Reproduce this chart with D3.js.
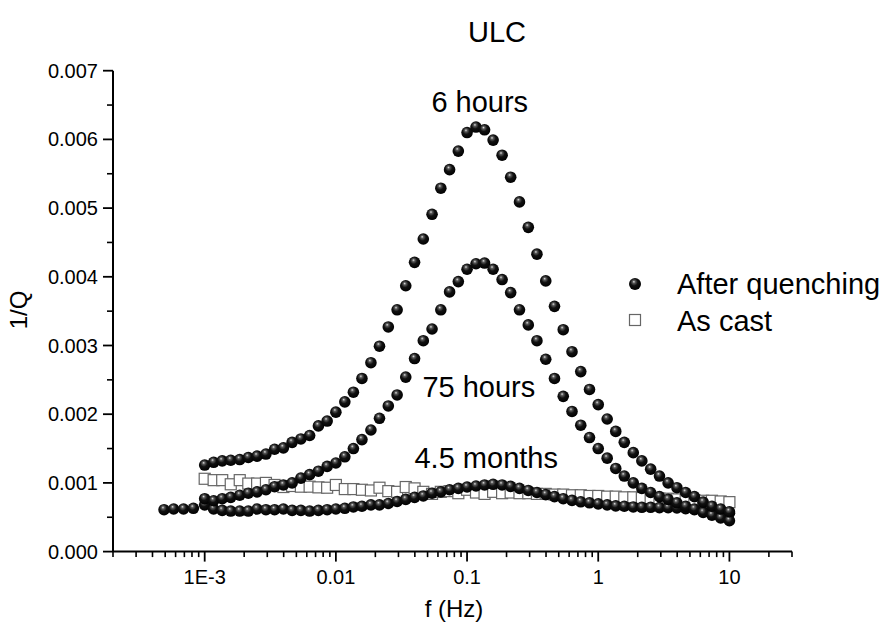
<!DOCTYPE html>
<html>
<head>
<meta charset="utf-8">
<script src="https://cdn.jsdelivr.net/npm/d3@7"></script>
<style>
  html, body { margin: 0; padding: 0; background: #fff; }
  svg { display: block; font-family: "Liberation Sans", Arial, sans-serif; }
</style>
</head>
<body>
<svg id="chart" width="887" height="625"></svg>
<script>
// ---------------- DATA ----------------
const freq = [
  0.001, 0.00117, 0.00136, 0.00158, 0.00185, 0.00215, 0.00251, 0.00293, 0.00341, 0.00398, 0.00464, 0.00541, 0.00631, 0.00736, 0.00858,
  0.01, 0.0117, 0.0136, 0.0158, 0.0185, 0.0215, 0.0251, 0.0293, 0.0341, 0.0398, 0.0464, 0.0541, 0.0631, 0.0736, 0.0858,
  0.1, 0.117, 0.136, 0.158, 0.185, 0.215, 0.251, 0.293, 0.341, 0.398, 0.464, 0.541, 0.631, 0.736, 0.858,
  1, 1.17, 1.36, 1.58, 1.85, 2.15, 2.51, 2.93, 3.41, 3.98, 4.64, 5.41, 6.31, 7.36, 8.58,
  10
];
// values in units of 1e-3
const sixHours = [
  1.26, 1.30, 1.32, 1.33, 1.34, 1.37, 1.39, 1.42, 1.49, 1.51, 1.59, 1.64, 1.69, 1.83, 1.90,
  2.03, 2.18, 2.32, 2.52, 2.75, 2.99, 3.27, 3.52, 3.87, 4.21, 4.55, 4.91, 5.29, 5.56, 5.83,
  6.10, 6.18, 6.14, 5.99, 5.77, 5.45, 5.09, 4.72, 4.33, 3.94, 3.57, 3.23, 2.91, 2.62, 2.36,
  2.14, 1.93, 1.75, 1.59, 1.44, 1.32, 1.20, 1.10, 1.00, 0.93, 0.86, 0.80, 0.72, 0.66, 0.62,
  0.58
];
const seventyFiveHours = [
  0.77, 0.74, 0.77, 0.79, 0.82, 0.85, 0.87, 0.90, 0.945, 0.97, 1.00, 1.07, 1.12, 1.17, 1.24,
  1.29, 1.38, 1.50, 1.63, 1.77, 1.94, 2.12, 2.28, 2.54, 2.81, 3.07, 3.24, 3.52, 3.78, 3.93,
  4.11, 4.19, 4.20, 4.11, 3.96, 3.77, 3.52, 3.30, 3.07, 2.80, 2.52, 2.26, 2.04, 1.84, 1.66,
  1.50, 1.36, 1.21, 1.10, 1.00, 0.92, 0.86, 0.80, 0.76, 0.71, 0.66, 0.62, 0.57, 0.53, 0.49,
  0.45
];
const monthsLowFreq = [0.00049, 0.00058, 0.00069, 0.00082];
const monthsLow = [0.61, 0.62, 0.62, 0.63];
const fourHalfMonths = [
  0.68, 0.62, 0.60, 0.59, 0.59, 0.59, 0.62, 0.61, 0.61, 0.62, 0.60, 0.60, 0.59, 0.60, 0.61,
  0.62, 0.63, 0.65, 0.66, 0.68, 0.68, 0.70, 0.73, 0.76, 0.79, 0.81, 0.85, 0.87, 0.90, 0.92,
  0.94, 0.955, 0.97, 0.98, 0.97, 0.95, 0.92, 0.89, 0.86, 0.83, 0.80, 0.77, 0.745, 0.725, 0.71,
  0.695, 0.68, 0.665, 0.66, 0.65, 0.645, 0.645, 0.64, 0.64, 0.635, 0.625, 0.61, 0.58, 0.575, 0.57,
  0.56
];
const asCast = [
  1.06, 1.04, 1.04, 0.98, 1.04, 0.99, 0.99, 1.00, 0.97, 0.94, 0.955, 0.945, 0.945, 0.935, 0.93,
  0.97, 0.91, 0.91, 0.90, 0.89, 0.93, 0.88, 0.87, 0.94, 0.92, 0.87, 0.84, 0.87, 0.88, 0.85,
  0.90, 0.86, 0.84, 0.87, 0.85, 0.86, 0.85, 0.85, 0.84, 0.84, 0.83, 0.83, 0.82, 0.82, 0.81,
  0.81, 0.80, 0.80, 0.79, 0.79, 0.78, 0.78, 0.77, 0.77, 0.76, 0.76, 0.75, 0.74, 0.74, 0.73,
  0.72
];
const xTickValues = [0.001, 0.01, 0.1, 1, 10];
const xTickLabels = ["1E-3", "0.01", "0.1", "1", "10"];
const yTickValues = [0, 0.001, 0.002, 0.003, 0.004, 0.005, 0.006, 0.007];
const yTickLabels = ["0.000", "0.001", "0.002", "0.003", "0.004", "0.005", "0.006", "0.007"];
const annotations = [
  { text: "6 hours", f: 0.125, v: 0.00640 },
  { text: "75 hours", f: 0.123, v: 0.00225 },
  { text: "4.5 months", f: 0.14, v: 0.00122 }
];
const legendItems = ["After quenching", "As cast"];

// ---------------- CHART ----------------
const svg = d3.select("#chart");
const x = d3.scaleLog().domain([2e-4, 30]).range([113, 792]);
const y = d3.scaleLinear().domain([0, 0.007]).range([551.6, 70.7]);

const defs = svg.append("defs");
const grad = defs.append("radialGradient").attr("id", "sphere")
  .attr("cx", "45%").attr("cy", "40%").attr("r", "60%")
  .attr("fx", "40%").attr("fy", "30%");
grad.append("stop").attr("offset", "0%").attr("stop-color", "#e0e0e0");
grad.append("stop").attr("offset", "20%").attr("stop-color", "#5a5a5a");
grad.append("stop").attr("offset", "50%").attr("stop-color", "#111");
grad.append("stop").attr("offset", "100%").attr("stop-color", "#000");

// Minor ticks
const xMinor = [];
for (let e = -4; e <= 1; e++) for (let m = 2; m <= 9; m++) {
  const v = m * Math.pow(10, e);
  if (v >= 2e-4 * 0.999 && v <= 30 * 1.001) xMinor.push(v);
}
const yMinor = [0.0005, 0.0015, 0.0025, 0.0035, 0.0045, 0.0055, 0.0065];

// X axis
const xAxis = svg.append("g").attr("transform", `translate(0,${y(0)})`);
xAxis.append("line").attr("x1", 113).attr("x2", 792).attr("y1", 0).attr("y2", 0)
  .attr("stroke", "#000").attr("stroke-width", 2);
xAxis.selectAll(".xmaj").data(xTickValues).join("line")
  .attr("x1", d => x(d)).attr("x2", d => x(d)).attr("y1", 0).attr("y2", 10)
  .attr("stroke", "#000").attr("stroke-width", 1.8);
xAxis.selectAll(".xmin").data(xMinor).join("line")
  .attr("x1", d => x(d)).attr("x2", d => x(d)).attr("y1", 0).attr("y2", 5.5)
  .attr("stroke", "#000").attr("stroke-width", 1.6);
xAxis.selectAll(".xlab").data(xTickValues).join("text")
  .attr("x", d => x(d)).attr("y", 32).attr("text-anchor", "middle")
  .attr("font-size", 20).attr("fill", "#000")
  .text((d, i) => xTickLabels[i]);

// Y axis
const yAxis = svg.append("g").attr("transform", `translate(113,0)`);
yAxis.append("line").attr("x1", 0).attr("x2", 0).attr("y1", y(0)).attr("y2", y(0.007))
  .attr("stroke", "#000").attr("stroke-width", 2);
yAxis.selectAll(".ymaj").data(yTickValues).join("line")
  .attr("x1", -10).attr("x2", 0).attr("y1", d => y(d)).attr("y2", d => y(d))
  .attr("stroke", "#000").attr("stroke-width", 1.8);
yAxis.selectAll(".ymin").data(yMinor).join("line")
  .attr("x1", -6).attr("x2", 0).attr("y1", d => y(d)).attr("y2", d => y(d))
  .attr("stroke", "#000").attr("stroke-width", 1.6);
yAxis.selectAll(".ylab").data(yTickValues).join("text")
  .attr("x", -15).attr("y", d => y(d)).attr("dy", "0.35em").attr("text-anchor", "end")
  .attr("font-size", 20).attr("fill", "#000")
  .text((d, i) => yTickLabels[i]);

// Titles
svg.append("text").attr("x", 497).attr("y", 42).attr("text-anchor", "middle")
  .attr("font-size", 29).attr("fill", "#000").text("ULC");
svg.append("text").attr("x", 454).attr("y", 617).attr("text-anchor", "middle")
  .attr("font-size", 24).attr("fill", "#000").text("f (Hz)");
svg.append("text").attr("transform", "translate(27,310) rotate(-90)").attr("text-anchor", "middle")
  .attr("font-size", 24).attr("fill", "#000").text("1/Q");

// As cast squares
const castData = freq.map((f, i) => ({ f, v: asCast[i] / 1000 }));
svg.append("g").selectAll("rect").data(castData).join("rect")
  .attr("x", d => x(d.f) - 5.5).attr("y", d => y(d.v) - 5.5)
  .attr("width", 11).attr("height", 11)
  .attr("fill", "#fff").attr("stroke", "#666").attr("stroke-width", 1.2);

// Sphere series
function drawSpheres(fs, vals) {
  const data = fs.map((f, i) => ({ f, v: vals[i] / 1000 }));
  svg.append("g").selectAll("circle").data(data).join("circle")
    .attr("cx", d => x(d.f)).attr("cy", d => y(d.v)).attr("r", 5.8)
    .attr("fill", "url(#sphere)");
}
drawSpheres(monthsLowFreq, monthsLow);
drawSpheres(freq, fourHalfMonths);
drawSpheres(freq, seventyFiveHours);
drawSpheres(freq, sixHours);

// Annotations
svg.append("g").selectAll("text").data(annotations).join("text")
  .attr("x", d => x(d.f)).attr("y", d => y(d.v)).attr("text-anchor", "middle")
  .attr("font-size", 29).attr("fill", "#000").text(d => d.text);

// Legend
const lg = svg.append("g");
lg.append("circle").attr("cx", 635).attr("cy", 284).attr("r", 6).attr("fill", "url(#sphere)");
lg.append("rect").attr("x", 629.5).attr("y", 314.5).attr("width", 11).attr("height", 11)
  .attr("fill", "#fff").attr("stroke", "#666").attr("stroke-width", 1.2);
lg.selectAll("text").data(legendItems).join("text")
  .attr("x", 677).attr("y", (d, i) => 294 + i * 37)
  .attr("font-size", 29).attr("fill", "#000").text(d => d);
</script>
</body>
</html>
